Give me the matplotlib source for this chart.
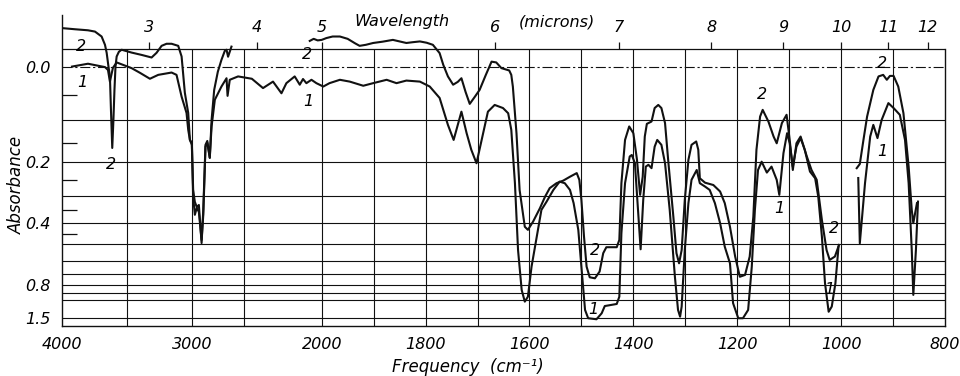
import numpy as np
import matplotlib
matplotlib.use("Agg")
import matplotlib.pyplot as plt

# ---------------- data (wavenumber cm-1, transmittance %) ----------------
curve1_a_wn = [3923, 3800, 3669, 3646, 3631, 3608, 3579, 3464, 3400, 3323,
               3259, 3156, 3118, 3079, 3041, 3028, 3015, 3000, 2990, 2977,
               2962, 2946, 2925, 2912, 2895, 2881, 2862, 2848, 2823, 2772,
               2733, 2725, 2708, 2644, 2538, 2452, 2375, 2310, 2272, 2208,
               2169, 2144, 2118, 2079, 2041, 1997, 1985, 1965, 1946, 1920,
               1901, 1875, 1856, 1837, 1811, 1792, 1773, 1757, 1746, 1737,
               1731, 1721, 1712, 1702, 1692, 1680, 1667, 1651, 1641, 1635,
               1628, 1622, 1615, 1609, 1603, 1596, 1586, 1577, 1567, 1554,
               1542, 1532, 1522, 1515, 1506, 1500, 1493, 1487, 1471, 1461,
               1455, 1432, 1427, 1423, 1416, 1407, 1403, 1397, 1391, 1386,
               1381, 1376, 1371, 1365, 1359, 1354, 1346, 1339, 1330, 1320,
               1314, 1310, 1307, 1301, 1294, 1288, 1278, 1272, 1262, 1253,
               1243, 1233, 1224, 1214, 1208, 1198, 1189, 1179, 1172, 1166,
               1160, 1153, 1143, 1134, 1124, 1119, 1111, 1104, 1099, 1093,
               1086, 1078, 1070, 1060, 1050, 1044, 1037, 1031, 1024, 1018,
               1011, 1005]
curve1_a_T = [100.1, 101.2, 99.9, 98.8, 94.3, 99.6, 101.7, 99.5, 97.7, 95.4,
              96.9, 97.8, 96.9, 88.5, 82.2, 75.7, 71.8, 69.9, 49.9, 42.9,
              45.6, 44.0, 33.2, 42.9, 69.2, 70.7, 64.9, 77.0, 87.3, 92.4,
              95.6, 88.8, 95.0, 96.3, 95.4, 91.8, 94.3, 89.8, 93.7, 96.3,
              93.1, 95.3, 93.7, 95.0, 93.7, 92.4, 93.7, 95.0, 94.3, 92.7,
              93.7, 95.0, 93.7, 94.7, 94.3, 92.4, 88.0, 77.6, 71.8, 78.4,
              82.7, 74.4, 68.0, 62.8, 71.8, 82.7, 85.3, 84.1, 82.1, 75.7,
              55.1, 29.3, 13.9, 9.4, 11.3, 22.9, 34.5, 44.8, 48.0, 52.5,
              55.7, 55.1, 52.5, 47.4, 37.1, 22.9, 6.2, 3.0, 2.6, 4.9,
              7.7, 8.5, 11.3, 35.8, 55.1, 65.4, 66.0, 62.8, 44.8, 29.6,
              48.6, 61.5, 62.2, 60.9, 69.2, 71.8, 69.9, 62.8, 44.8, 19.0,
              6.2, 3.6, 7.5, 29.3, 47.4, 56.4, 60.2, 55.1, 53.8, 52.5,
              47.4, 39.7, 30.6, 24.2, 8.8, 3.0, 3.0, 6.2, 22.9, 44.8,
              60.2, 63.4, 59.2, 61.5, 56.4, 50.6, 66.7, 74.4, 70.5, 61.5,
              69.2, 72.5, 68.0, 59.6, 57.0, 49.9, 34.5, 16.5, 5.5, 7.5,
              16.5, 30.6]

curve1_b_wn = [967, 964, 954, 944, 938, 930, 922, 909, 899, 887, 877, 870, 864, 861, 856, 852]
curve1_b_T = [57.1, 31.9, 55.1, 73.1, 77.6, 72.5, 79.5, 86.0, 84.1, 81.5, 71.8, 55.1, 29.3, 12.0, 29.3, 48.0]

curve2_a_wn = [3990, 3900, 3800, 3746, 3695, 3669, 3656, 3644, 3631, 3623,
               3613, 3604, 3596, 3588, 3579, 3562, 3541, 3464, 3387, 3310,
               3272, 3233, 3195, 3156, 3105, 3079, 3054, 3028, 3015, 3000,
               2990, 2977, 2962, 2946, 2925, 2912, 2895, 2881, 2862, 2848,
               2828, 2800, 2772, 2746, 2733, 2721, 2695]
curve2_a_T = [114.9, 114.5, 114.1, 113.6, 111.7, 108.5, 105.4, 100.8, 96.3, 83.4,
              68.7, 79.5, 91.1, 100.1, 104.0, 105.8, 106.6, 105.5, 104.6, 103.6,
              105.4, 108.1, 108.9, 108.9, 108.1, 104.0, 90.0, 82.2, 71.8, 70.7,
              52.5, 47.9, 45.9, 46.7, 32.0, 44.8, 69.9, 71.4, 64.9, 79.5,
              91.1, 98.1, 102.7, 106.2, 106.6, 103.9, 107.8]

curve2_b_wn = [2092, 2062, 2031, 2000, 1991, 1979, 1965, 1950, 1936, 1927,
               1915, 1901, 1883, 1863, 1850, 1837, 1825, 1811, 1798, 1786,
               1773, 1766, 1757, 1747, 1738, 1731, 1723, 1715, 1705, 1696,
               1684, 1673, 1664, 1654, 1639, 1635, 1632, 1625, 1619, 1609,
               1603, 1593, 1580, 1570, 1561, 1548, 1535, 1522, 1509, 1504,
               1500, 1495, 1490, 1484, 1474, 1465, 1458, 1452, 1432, 1427,
               1423, 1416, 1408, 1400, 1393, 1387, 1382, 1378, 1374, 1365,
               1359, 1352, 1346, 1339, 1333, 1323, 1317, 1312, 1307, 1301,
               1294, 1288, 1279, 1275, 1272, 1262, 1246, 1233, 1224, 1214,
               1204, 1195, 1185, 1176, 1169, 1163, 1156, 1151, 1140, 1130,
               1124, 1114, 1105, 1099, 1093, 1086, 1078, 1066, 1057, 1047,
               1037, 1028, 1022, 1012, 1004]
curve2_b_T = [110.0, 110.8, 110.2, 110.4, 111.1, 111.7, 111.7, 110.8, 109.1, 108.1,
              108.5, 109.2, 109.7, 110.4, 109.8, 109.2, 109.5, 109.8, 109.3, 108.5,
              105.3, 100.8, 96.3, 93.1, 94.2, 95.6, 90.3, 85.7, 88.5, 91.1,
              96.9, 102.0, 101.7, 99.5, 98.6, 96.9, 92.4, 74.4, 52.5, 38.3,
              37.1, 40.3, 45.4, 49.9, 53.2, 55.1, 56.1, 57.6, 59.0, 56.4,
              48.6, 34.5, 22.9, 18.8, 18.4, 21.0, 28.1, 30.4, 30.4, 33.2,
              55.1, 71.8, 77.0, 74.4, 64.1, 50.6, 57.6, 73.1, 78.0, 78.9,
              84.1, 85.3, 84.1, 78.3, 64.1, 42.2, 28.1, 24.2, 29.3, 48.6,
              64.1, 69.9, 71.2, 68.0, 57.0, 55.3, 54.4, 51.9, 47.4, 38.3,
              26.8, 19.0, 19.7, 26.8, 42.2, 68.0, 80.8, 83.4, 78.9, 73.1,
              70.5, 78.3, 81.5, 71.8, 60.2, 70.5, 73.1, 65.4, 60.2, 56.4,
              40.9, 29.3, 25.5, 26.8, 31.3]

curve2_c_wn = [970, 964, 957, 950, 938, 928, 919, 912, 906, 899, 890, 880, 870, 864, 861, 854]
curve2_c_T = [60.9, 62.5, 71.8, 80.8, 91.1, 96.3, 96.9, 95.0, 96.5, 96.5, 92.4, 82.1, 61.5, 44.8, 39.7, 47.4]

freq_ticks = [4000, 3000, 2000, 1800, 1600, 1400, 1200, 1000, 800]
freq_grid = [3500, 3000, 2600, 2000, 1900, 1800, 1700, 1600, 1500, 1400,
             1300, 1200, 1100, 1000, 900]
abs_labels = [0.0, 0.2, 0.4, 0.8, 1.5]
abs_grid = [0.1, 0.2, 0.3, 0.4, 0.5, 0.6, 0.7, 0.8, 0.9, 1.0, 1.5]
abs_minor = [0.05, 0.15, 0.25, 0.35, 0.45]
wavelengths = [3, 4, 5, 6, 7, 8, 9, 10, 11, 12]

# curve number labels: (text, wavenumber, transmittance)
curve_labels = [("2", 3854, 107.7), ("1", 3846, 93.8), ("2", 3623, 62.2),
                ("2", 2115, 104.6), ("1", 2100, 86.5),
                ("2", 1474, 29.3), ("1", 1478, 6.2),
                ("2", 1153, 89.2), ("1", 1120, 45.2),
                ("2", 1014, 37.5), ("1", 1023, 13.9),
                ("2", 921, 101.2), ("1", 921, 67.2)]

# ---------------- figure ----------------
def fwd(x):
    x = np.asarray(x, float)
    return np.where(x > 2000, 2000 + (x - 2000) / 4.0, x)

def inv(u):
    u = np.asarray(u, float)
    return np.where(u > 2000, 2000 + (u - 2000) * 4.0, u)

FS = 11.5
fontkw = dict(family="DejaVu Sans", style="italic")
ink = "#111111"

fig = plt.figure(figsize=(9.6, 3.76), dpi=100)
ax = fig.add_axes([62 / 960, 50 / 376, 883 / 960, 311 / 376])
ax.set_xscale("function", functions=(fwd, inv))
ax.set_xlim(4000, 800)
ax.set_ylim(0, 120)

T_TOP = 107.0
# grid
ax.vlines(freq_grid, 0, T_TOP, color=ink, lw=0.8, zorder=1)
ax.hlines([100 * 10 ** (-a) for a in abs_grid], 4000, 800, color=ink, lw=0.8, zorder=1)
ax.hlines(100, 4000, 800, color=ink, lw=0.8, linestyles=(0, (9, 2.5, 2, 2.5)), zorder=1)
ax.hlines(T_TOP, 4000, 800, color=ink, lw=0.9, zorder=1)

# spines
ax.spines["top"].set_visible(False)
ax.spines["right"].set_bounds(0, T_TOP)
for s in ("left", "bottom", "right"):
    ax.spines[s].set_linewidth(1.0)
    ax.spines[s].set_color(ink)

# curves
lw = 1.5
for wn, t in [(curve1_a_wn, curve1_a_T), (curve1_b_wn, curve1_b_T),
              (curve2_a_wn, curve2_a_T), (curve2_b_wn, curve2_b_T),
              (curve2_c_wn, curve2_c_T)]:
    ax.plot(wn, t, color=ink, lw=lw, solid_joinstyle="round", zorder=3)

# ticks
ax.set_xticks(freq_ticks)
ax.set_xticklabels([str(v) for v in freq_ticks], fontsize=FS, **fontkw)
ax.tick_params(axis="x", length=0, pad=8)
ax.set_yticks([100 * 10 ** (-a) for a in abs_labels])
ax.set_yticklabels([f"{a:.1f}" for a in abs_labels], fontsize=FS, **fontkw)
ax.tick_params(axis="y", which="major", length=0, pad=8)
ax.set_yticks([100 * 10 ** (-a) for a in abs_minor], minor=True)
ax.tick_params(axis="y", which="minor", direction="in", length=11, width=0.9, color=ink)
ax.tick_params(axis="x", which="minor", length=0)
ax.xaxis.set_minor_locator(matplotlib.ticker.NullLocator())

# top wavelength scale
wl_pos = [1e4 / w for w in wavelengths]
ax.vlines(wl_pos, T_TOP, 109.7, color=ink, lw=0.9, clip_on=False)
for w, p in zip(wavelengths, wl_pos):
    ax.text(p, 115.2, str(w), ha="center", va="center", fontsize=FS, **fontkw)
ax.text(1846, 117.4, "Wavelength", ha="center", va="center", fontsize=FS, **fontkw)
ax.text(1547, 117.2, "(microns)", ha="center", va="center", fontsize=FS, **fontkw)

# curve labels
for txt, wn, t in curve_labels:
    ax.text(wn, t, txt, ha="center", va="center", fontsize=FS, **fontkw, zorder=4)

fig.text(468 / 960, 1 - 367 / 376, "Frequency  (cm\u207b\u00b9)", ha="center", va="center",
         fontsize=12, **fontkw)
fig.text(17 / 960, 1 - 185 / 376, "Absorbance", rotation=90, ha="center", va="center",
         fontsize=12, **fontkw)

fig.savefig("out.png", dpi=100, facecolor="white")
